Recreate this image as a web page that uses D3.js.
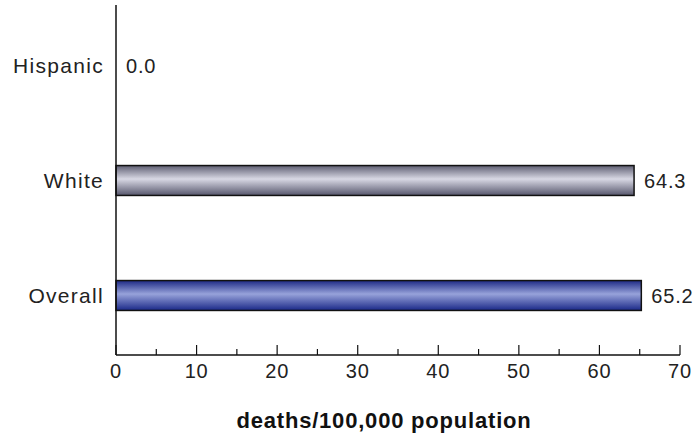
<!DOCTYPE html>
<html>
<head>
<meta charset="utf-8">
<script src="https://cdn.jsdelivr.net/npm/d3@7"></script>
<style>
  body { margin: 0; background: #fff; }
  text { font-family: Arial, "Liberation Sans", sans-serif; fill: #222; letter-spacing: 0.8px; }
</style>
</head>
<body>
<svg width="694" height="440"></svg>
<script>
var categories = ["Hispanic", "White", "Overall"];
var rates = [0.0, 64.3, 65.2];
var xTicks = [0, 10, 20, 30, 40, 50, 60, 70];

var svg = d3.select("svg"),
    margin = {top: 8, right: 14, bottom: 85, left: 116},
    width = +svg.attr("width") - margin.left - margin.right,
    height = +svg.attr("height") - margin.top - margin.bottom;

var data = categories.map(function(c, i) { return {cat: c, val: rates[i]}; });

var x = d3.scaleLinear().domain([0, 70]).range([0, 564]);
var y = d3.scaleBand().domain(categories).range([0, 345]).paddingInner(0.74).paddingOuter(0.37);

var defs = svg.append("defs");
function grad(id, edge, mid) {
    var g = defs.append("linearGradient").attr("id", id)
        .attr("x1", 0).attr("y1", 0).attr("x2", 0).attr("y2", 1);
    g.append("stop").attr("offset", "0%").attr("stop-color", edge[0]);
    g.append("stop").attr("offset", "45%").attr("stop-color", mid);
    g.append("stop").attr("offset", "100%").attr("stop-color", edge[1]);
}
grad("gWhite", ["#5e5e72", "#56566c"], "#d8d8e4");
grad("gOverall", ["#1e2a86", "#1a2888"], "#97a2da");
var fills = {White: "url(#gWhite)", Overall: "url(#gOverall)", Hispanic: "none"};

var g = svg.append("g")
    .attr("transform", "translate(" + margin.left + "," + margin.top + ")");

// bars
g.selectAll(".bar")
    .data(data.filter(function(d) { return d.val > 0; }))
    .enter().append("rect")
    .attr("x", 0)
    .attr("y", function(d) { return y(d.cat); })
    .attr("width", function(d) { return x(d.val); })
    .attr("height", y.bandwidth())
    .attr("fill", function(d) { return fills[d.cat]; })
    .attr("stroke", "#111")
    .attr("stroke-width", 1.5);

// value labels
g.selectAll(".val")
    .data(data)
    .enter().append("text")
    .attr("x", function(d) { return x(d.val) + 10; })
    .attr("y", function(d) { return y(d.cat) + y.bandwidth() / 2; })
    .attr("dy", "0.35em")
    .style("font-size", "20px")
    .text(function(d) { return d.val.toFixed(1); });

// category labels
g.selectAll(".cat")
    .data(data)
    .enter().append("text")
    .attr("x", -12)
    .attr("y", function(d) { return y(d.cat) + y.bandwidth() / 2; })
    .attr("dy", "0.35em")
    .attr("text-anchor", "end")
    .style("font-size", "21px")
    .style("letter-spacing", "1.3px")
    .text(function(d) { return d.cat; });

// y axis line
g.append("line")
    .attr("x1", 0).attr("x2", 0)
    .attr("y1", -3).attr("y2", 347)
    .attr("stroke", "#111").attr("stroke-width", 1.5);

// x axis
var xAxis = g.append("g")
    .attr("transform", "translate(0," + 347 + ")");
xAxis.append("line")
    .attr("x1", 0).attr("x2", x(70))
    .attr("stroke", "#111").attr("stroke-width", 1.5);
xAxis.selectAll(".minor")
    .data(d3.range(5, 70, 10))
    .enter().append("line")
    .attr("x1", function(d) { return x(d); }).attr("x2", function(d) { return x(d); })
    .attr("y1", 0).attr("y2", -6)
    .attr("stroke", "#111").attr("stroke-width", 1.2);
xAxis.selectAll(".major")
    .data(xTicks)
    .enter().append("line")
    .attr("x1", function(d) { return x(d); }).attr("x2", function(d) { return x(d); })
    .attr("y1", 0).attr("y2", -10)
    .attr("stroke", "#111").attr("stroke-width", 1.2);
xAxis.selectAll(".lbl")
    .data(xTicks)
    .enter().append("text")
    .attr("x", function(d) { return x(d); })
    .attr("y", 23)
    .attr("text-anchor", "middle")
    .style("font-size", "20px")
    .text(function(d) { return d; });

svg.append("text")
    .attr("x", 384)
    .attr("y", 428)
    .attr("text-anchor", "middle")
    .style("font-size", "22px")
    .style("font-weight", "bold")
    .style("fill", "#111")
    .text("deaths/100,000 population");
</script>
</body>
</html>
